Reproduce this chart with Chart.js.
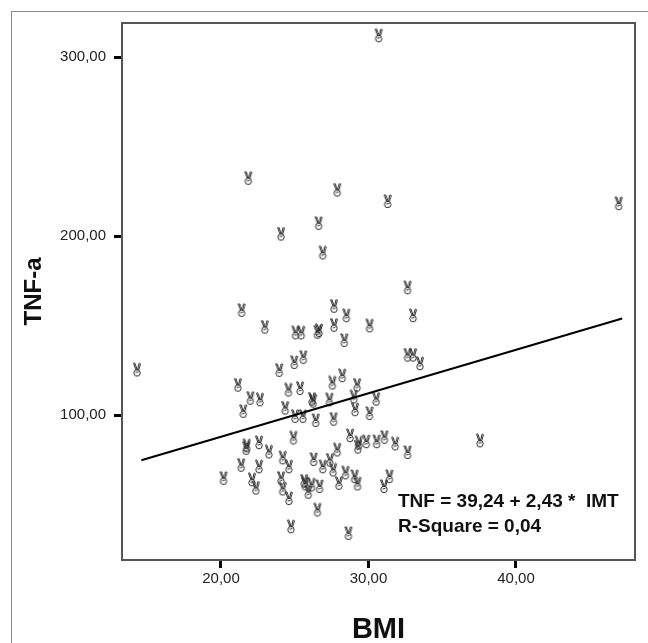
<!DOCTYPE html>
<html>
<head>
<meta charset="utf-8">
<script src="https://cdn.jsdelivr.net/npm/chart.js@4"></script>
<style>
  html,body{margin:0;padding:0;background:#fff;}
  #wrap{width:648px;height:643px;position:relative;}
</style>
</head>
<body>
<div id="wrap"><canvas id="chart" width="648" height="643"></canvas></div>
<script>
// --------------------
// DATA
// --------------------
const bmi = [30.69,21.85,27.88,31.30,46.96,26.62,24.07,26.90,32.65,21.40,27.66,28.50,33.02,22.97,27.66,30.07,
  25.05,25.44,26.54,26.65,28.36,32.65,33.02,33.49,14.31,25.58,24.97,23.95,28.22,27.55,29.23,21.15,24.57,25.36,
  21.99,22.64,26.17,26.25,27.35,29.00,30.52,24.35,29.09,21.51,30.07,25.02,25.55,26.42,27.63,28.75,24.91,29.34,
  29.28,29.85,30.55,31.08,31.81,32.65,37.56,21.74,21.71,22.58,23.25,27.88,21.37,22.58,24.18,24.60,26.28,26.90,
  27.38,27.60,28.44,29.06,29.26,20.17,22.10,22.36,24.07,24.18,24.60,25.64,25.72,25.92,26.14,26.68,27.99,31.05,
  31.42,26.54,24.74,28.64];
const tnf = [311.9,232.3,225.7,219.3,218.1,207.1,201.1,190.6,171.1,158.5,160.8,155.5,155.5,149.1,150.2,149.8,
  145.9,145.9,146.3,147.2,141.7,133.5,133.5,128.7,125.2,132.3,129.4,125.0,122.0,117.9,116.7,116.7,114.0,114.9,
  109.4,108.5,108.9,107.8,108.5,110.1,108.9,103.9,103.0,102.1,100.9,99.3,99.3,97.0,97.7,88.5,87.2,84.4,
  82.1,85.1,85.1,87.6,83.9,79.1,85.6,82.8,81.4,84.6,79.4,80.5,72.0,71.1,76.1,71.1,75.2,71.1,
  74.8,69.3,67.7,65.6,61.5,64.7,63.8,59.2,64.7,58.7,53.4,63.1,61.5,56.9,61.0,60.1,61.9,60.1,
  65.6,47.0,37.6,33.9];

// fit line end points
const fitX = [14.6, 47.2];
const fitY = [74.7, 153.9];

const xTicks = [20, 30, 40];
const yTicks = [100, 200, 300];
const fitText = ['TNF = 39,24 + 2,43 *  IMT', 'R-Square = 0,04'];

// --------------------
// HELPERS
// --------------------
function fmt(v){ return v.toFixed(2).replace('.', ','); }

// SPSS style "hand" marker
function makeMarker(){
  const c = document.createElement('canvas');
  c.width = 10; c.height = 15;
  const g = c.getContext('2d');
  g.strokeStyle = '#2a2a2a';
  g.lineWidth = 1;
  g.beginPath(); g.arc(5, 10.5, 3.2, 0, Math.PI*2); g.stroke();
  g.beginPath();
  g.moveTo(4, 7.5); g.lineTo(1.5, 1); g.lineTo(3, 1); g.lineTo(5, 7);
  g.moveTo(5.5, 7.5); g.lineTo(7, 1); g.lineTo(8.5, 1.5); g.lineTo(6.5, 8);
  g.stroke();
  g.beginPath(); g.moveTo(3.5, 10); g.lineTo(6.5, 9.5); g.stroke();
  return c;
}

const points = bmi.map((x,i)=>({x:x, y:tnf[i]}));
const fitLine = fitX.map((x,i)=>({x:x, y:fitY[i]}));

// frame + outer border + equation text
const framePlugin = {
  id:'frame',
  beforeDraw(chart){
    const ctx = chart.ctx;
    ctx.save();
    ctx.strokeStyle = '#8a8a8a'; ctx.lineWidth = 1;
    ctx.strokeRect(11.5, 11.5, 700, 700);
    ctx.restore();
  },
  afterDraw(chart){
    const {ctx, chartArea:a} = chart;
    ctx.save();
    ctx.strokeStyle = '#555'; ctx.lineWidth = 2;
    ctx.strokeRect(a.left, a.top, a.right-a.left, a.bottom-a.top);
    ctx.fillStyle = '#111';
    ctx.font = 'bold 19px "Liberation Sans", Arial, sans-serif';
    ctx.textBaseline = 'alphabetic';
    ctx.fillText(fitText[0], 398, 507);
    ctx.fillText(fitText[1], 398, 532);
    ctx.restore();
  }
};

const ctx = document.getElementById('chart').getContext('2d');
const chart = new Chart(ctx, {
  type:'scatter',
  data:{ datasets:[
    {label:'TNF', data:points, pointStyle:makeMarker(), pointRadius:5, order:2},
    {label:'fit', type:'line', data:fitLine, borderColor:'#000', borderWidth:2, pointRadius:0, fill:false, order:1}
  ]},
  options:{
    responsive:false, animation:false,
    layout:{padding:{top:23, right:13, left:0, bottom:0}},
    plugins:{legend:{display:false}, tooltip:{enabled:false}},
    scales:{
      x:{
        type:'linear', min:13.29, max:48.07,
        afterBuildTicks: s=>{ s.ticks = xTicks.map(v=>({value:v})); },
        afterFit: s=>{ s.height = 83; },
        border:{display:false},
        grid:{drawOnChartArea:false, tickLength:8, tickWidth:3, tickColor:'#000'},
        ticks:{color:'#222', font:{family:'"Liberation Sans", Arial, sans-serif', size:15}, padding:2, maxRotation:0,
          callback: v=>fmt(v)},
        title:{display:true, text:'BMI', color:'#111', font:{family:'"Liberation Sans", Arial, sans-serif', size:29, weight:'bold'}, padding:{top:14, bottom:-4}}
      },
      y:{
        type:'linear', min:19, max:319,
        afterBuildTicks: s=>{ s.ticks = yTicks.map(v=>({value:v})); },
        afterFit: s=>{ s.width = 122; },
        border:{display:false},
        grid:{drawOnChartArea:false, tickLength:8, tickWidth:3, tickColor:'#000'},
        ticks:{color:'#222', font:{family:'"Liberation Sans", Arial, sans-serif', size:15}, padding:8,
          callback: v=>fmt(v)},
        title:{display:true, text:'TNF-a', color:'#111', font:{family:'"Liberation Sans", Arial, sans-serif', size:24, weight:'bold'}, padding:{top:20, bottom:0}}
      }
    }
  },
  plugins:[framePlugin]
});
</script>
</body>
</html>
